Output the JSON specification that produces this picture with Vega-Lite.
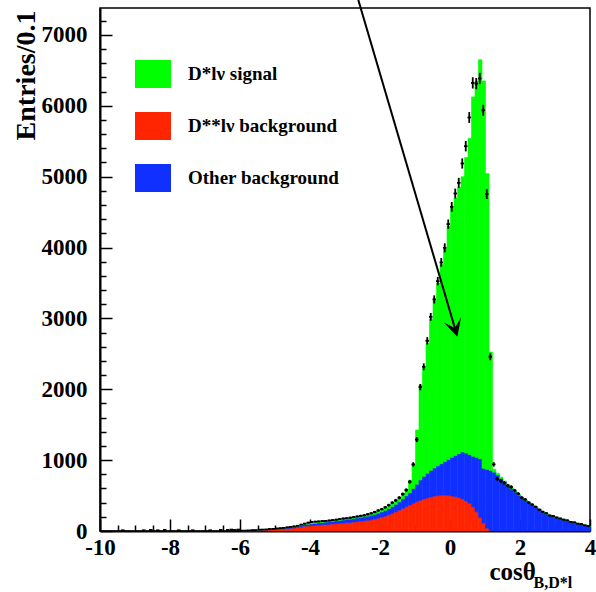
{
  "$schema": "https://vega.github.io/schema/vega-lite/v6.json",
  "width": 490,
  "height": 523,
  "autosize": {"type": "none"},
  "padding": {"left": 100, "top": 8, "right": 6, "bottom": 61},
  "background": "white",
  "config": {
    "view": {"stroke": "black", "strokeWidth": 1.5},
    "font": "Liberation Serif",
    "axis": {"grid": false, "domainColor": "black", "tickColor": "black", "labelColor": "black", "titleColor": "black", "labelFont": "Liberation Serif", "titleFont": "Liberation Serif", "labelFontWeight": "bold", "titleFontWeight": "bold", "labelFlush": false, "labelOverlap": false}
  },
  "datasets": {
    "h": [
      {"a":-9.4,"b":-9.3,"m":-9.35,"d":10,"e":3},
      {"a":-8.8,"b":-8.7,"m":-8.75,"d":10,"e":3},
      {"a":-8.6,"b":-8.5,"m":-8.55,"d":15,"e":4},
      {"a":-8.4,"b":-8.3,"m":-8.35,"d":10,"e":3},
      {"a":-8.2,"b":-8.1,"m":-8.15,"d":15,"e":4},
      {"a":-7.8,"b":-7.7,"m":-7.75,"d":10,"e":3},
      {"a":-7.4,"b":-7.3,"m":-7.35,"d":10,"e":3},
      {"a":-6.9,"b":-6.8,"m":-6.85,"d":10,"e":3},
      {"a":-6.6,"b":-6.5,"m":-6.55,"d":15,"e":4},
      {"a":-6.4,"b":-6.3,"m":-6.35,"d":15,"e":4},
      {"a":-6.3,"b":-6.2,"m":-6.25,"d":20,"e":4.5},
      {"a":-6.2,"b":-6.1,"m":-6.15,"d":15,"e":4},
      {"a":-6.1,"b":-6.0,"m":-6.05,"d":20,"e":4.5},
      {"a":-6.0,"b":-5.9,"m":-5.95,"dss":3,"oth":1,"sig":0,"d":5,"e":2.2},
      {"a":-5.9,"b":-5.8,"m":-5.85,"dss":4,"oth":1,"sig":0,"d":6,"e":2.4},
      {"a":-5.8,"b":-5.7,"m":-5.75,"dss":6,"oth":2,"sig":0,"d":8,"e":2.8},
      {"a":-5.7,"b":-5.6,"m":-5.65,"dss":8,"oth":2,"sig":0,"d":12,"e":3.5},
      {"a":-5.6,"b":-5.5,"m":-5.55,"dss":8,"oth":3,"sig":1,"d":12,"e":3.5},
      {"a":-5.5,"b":-5.4,"m":-5.45,"dss":12,"oth":4,"sig":1,"d":18,"e":4.2},
      {"a":-5.4,"b":-5.3,"m":-5.35,"dss":14,"oth":4,"sig":1,"d":20,"e":4.5},
      {"a":-5.3,"b":-5.2,"m":-5.25,"dss":14,"oth":6,"sig":2,"d":22,"e":4.7},
      {"a":-5.2,"b":-5.1,"m":-5.15,"dss":18,"oth":6,"sig":2,"d":28,"e":5.3},
      {"a":-5.1,"b":-5.0,"m":-5.05,"dss":20,"oth":7,"sig":2,"d":30,"e":5.5},
      {"a":-5.0,"b":-4.9,"m":-4.95,"dss":24,"oth":8,"sig":3,"d":36,"e":6},
      {"a":-4.9,"b":-4.8,"m":-4.85,"dss":28,"oth":8,"sig":3,"d":40,"e":6.3},
      {"a":-4.8,"b":-4.7,"m":-4.75,"dss":30,"oth":10,"sig":3,"d":44,"e":6.6},
      {"a":-4.7,"b":-4.6,"m":-4.65,"dss":34,"oth":12,"sig":4,"d":52,"e":7.2},
      {"a":-4.6,"b":-4.5,"m":-4.55,"dss":38,"oth":14,"sig":4,"d":58,"e":7.6},
      {"a":-4.5,"b":-4.4,"m":-4.45,"dss":44,"oth":14,"sig":5,"d":64,"e":8},
      {"a":-4.4,"b":-4.3,"m":-4.35,"dss":50,"oth":16,"sig":5,"d":74,"e":8.6},
      {"a":-4.3,"b":-4.2,"m":-4.25,"dss":58,"oth":18,"sig":6,"d":90,"e":9.5},
      {"a":-4.2,"b":-4.1,"m":-4.15,"dss":68,"oth":22,"sig":6,"d":104,"e":10.2},
      {"a":-4.1,"b":-4.0,"m":-4.05,"dss":72,"oth":24,"sig":7,"d":118,"e":10.9},
      {"a":-4.0,"b":-3.9,"m":-3.95,"dss":76,"oth":26,"sig":8,"d":128,"e":11.3},
      {"a":-3.9,"b":-3.8,"m":-3.85,"dss":80,"oth":28,"sig":8,"d":132,"e":11.5},
      {"a":-3.8,"b":-3.7,"m":-3.75,"dss":84,"oth":30,"sig":9,"d":135,"e":11.6},
      {"a":-3.7,"b":-3.6,"m":-3.65,"dss":88,"oth":32,"sig":10,"d":140,"e":11.8},
      {"a":-3.6,"b":-3.5,"m":-3.55,"dss":92,"oth":34,"sig":10,"d":142,"e":11.9},
      {"a":-3.5,"b":-3.4,"m":-3.45,"dss":96,"oth":36,"sig":11,"d":148,"e":12.2},
      {"a":-3.4,"b":-3.3,"m":-3.35,"dss":100,"oth":38,"sig":12,"d":154,"e":12.4},
      {"a":-3.3,"b":-3.2,"m":-3.25,"dss":104,"oth":40,"sig":13,"d":160,"e":12.6},
      {"a":-3.2,"b":-3.1,"m":-3.15,"dss":108,"oth":42,"sig":14,"d":168,"e":13},
      {"a":-3.1,"b":-3.0,"m":-3.05,"dss":112,"oth":44,"sig":15,"d":176,"e":13.3},
      {"a":-3.0,"b":-2.9,"m":-2.95,"dss":116,"oth":46,"sig":16,"d":180,"e":13.4},
      {"a":-2.9,"b":-2.8,"m":-2.85,"dss":120,"oth":48,"sig":17,"d":188,"e":13.7},
      {"a":-2.8,"b":-2.7,"m":-2.75,"dss":126,"oth":50,"sig":18,"d":196,"e":14},
      {"a":-2.7,"b":-2.6,"m":-2.65,"dss":132,"oth":52,"sig":20,"d":205,"e":14.3},
      {"a":-2.6,"b":-2.5,"m":-2.55,"dss":138,"oth":54,"sig":22,"d":214,"e":14.6},
      {"a":-2.5,"b":-2.4,"m":-2.45,"dss":144,"oth":56,"sig":24,"d":222,"e":14.9},
      {"a":-2.4,"b":-2.3,"m":-2.35,"dss":150,"oth":60,"sig":26,"d":236,"e":15.4},
      {"a":-2.3,"b":-2.2,"m":-2.25,"dss":158,"oth":64,"sig":28,"d":250,"e":15.8},
      {"a":-2.2,"b":-2.1,"m":-2.15,"dss":168,"oth":68,"sig":30,"d":268,"e":16.4},
      {"a":-2.1,"b":-2.0,"m":-2.05,"dss":180,"oth":72,"sig":33,"d":290,"e":17},
      {"a":-2.0,"b":-1.9,"m":-1.95,"dss":194,"oth":76,"sig":36,"d":308,"e":17.5},
      {"a":-1.9,"b":-1.8,"m":-1.85,"dss":210,"oth":82,"sig":40,"d":335,"e":18.3},
      {"a":-1.8,"b":-1.7,"m":-1.75,"dss":228,"oth":88,"sig":44,"d":365,"e":19.1},
      {"a":-1.7,"b":-1.6,"m":-1.65,"dss":248,"oth":96,"sig":48,"d":400,"e":20},
      {"a":-1.6,"b":-1.5,"m":-1.55,"dss":270,"oth":106,"sig":54,"d":432,"e":20.8},
      {"a":-1.5,"b":-1.4,"m":-1.45,"dss":294,"oth":118,"sig":62,"d":470,"e":21.7},
      {"a":-1.4,"b":-1.3,"m":-1.35,"dss":318,"oth":134,"sig":78,"d":520,"e":22.8},
      {"a":-1.3,"b":-1.2,"m":-1.25,"dss":342,"oth":154,"sig":94,"d":578,"e":24},
      {"a":-1.2,"b":-1.1,"m":-1.15,"dss":366,"oth":174,"sig":170,"d":695,"e":26.4},
      {"a":-1.1,"b":-1.0,"m":-1.05,"dss":390,"oth":210,"sig":340,"d":940,"e":30.7},
      {"a":-1.0,"b":-0.9,"m":-0.95,"dss":412,"oth":248,"sig":765,"d":1290,"e":35.9},
      {"a":-0.9,"b":-0.8,"m":-0.85,"dss":432,"oth":288,"sig":1340,"d":2030,"e":45},
      {"a":-0.8,"b":-0.7,"m":-0.75,"dss":450,"oth":320,"sig":1530,"d":2317,"e":48.1},
      {"a":-0.7,"b":-0.6,"m":-0.65,"dss":466,"oth":349,"sig":1835,"d":2684,"e":51.8},
      {"a":-0.6,"b":-0.5,"m":-0.55,"dss":480,"oth":375,"sig":2135,"d":3022,"e":55},
      {"a":-0.5,"b":-0.4,"m":-0.45,"dss":492,"oth":398,"sig":2360,"d":3268,"e":57.2},
      {"a":-0.4,"b":-0.3,"m":-0.35,"dss":500,"oth":420,"sig":2580,"d":3526,"e":59.4},
      {"a":-0.3,"b":-0.2,"m":-0.25,"dss":504,"oth":446,"sig":2810,"d":3790,"e":61.6},
      {"a":-0.2,"b":-0.1,"m":-0.15,"dss":504,"oth":476,"sig":3000,"d":3996,"e":63.2},
      {"a":-0.1,"b":0.0,"m":-0.05,"dss":500,"oth":510,"sig":3290,"d":4330,"e":65.8},
      {"a":0.0,"b":0.1,"m":0.05,"dss":494,"oth":546,"sig":3510,"d":4574,"e":67.6},
      {"a":0.1,"b":0.2,"m":0.15,"dss":484,"oth":581,"sig":3635,"d":4763,"e":69},
      {"a":0.2,"b":0.3,"m":0.25,"dss":470,"oth":620,"sig":3760,"d":4913,"e":70.1},
      {"a":0.3,"b":0.4,"m":0.35,"dss":450,"oth":665,"sig":3885,"d":5186,"e":72},
      {"a":0.4,"b":0.5,"m":0.45,"dss":424,"oth":676,"sig":4170,"d":5430,"e":73.7},
      {"a":0.5,"b":0.6,"m":0.55,"dss":390,"oth":690,"sig":4460,"d":5835,"e":76.4},
      {"a":0.6,"b":0.7,"m":0.65,"dss":340,"oth":715,"sig":5070,"d":6323,"e":79.5},
      {"a":0.7,"b":0.8,"m":0.75,"dss":270,"oth":770,"sig":5310,"d":6313,"e":79.5},
      {"a":0.8,"b":0.9,"m":0.85,"dss":190,"oth":830,"sig":5630,"d":6385,"e":79.9},
      {"a":0.9,"b":1.0,"m":0.95,"dss":110,"oth":775,"sig":5465,"d":5937,"e":77.1},
      {"a":1.0,"b":1.1,"m":1.05,"dss":40,"oth":830,"sig":4175,"d":4753,"e":68.9},
      {"a":1.1,"b":1.2,"m":1.15,"dss":8,"oth":847,"sig":1670,"d":2460,"e":49.6},
      {"a":1.2,"b":1.3,"m":1.25,"oth":830,"sig":40,"d":940,"e":30.7},
      {"a":1.3,"b":1.4,"m":1.35,"oth":790,"sig":25,"d":735,"e":27.1},
      {"a":1.4,"b":1.5,"m":1.45,"oth":740,"sig":20,"d":705,"e":26.6},
      {"a":1.5,"b":1.6,"m":1.55,"oth":690,"sig":15,"d":680,"e":26.1},
      {"a":1.6,"b":1.7,"m":1.65,"oth":640,"sig":15,"d":640,"e":25.3},
      {"a":1.7,"b":1.8,"m":1.75,"oth":595,"sig":13,"d":620,"e":24.9},
      {"a":1.8,"b":1.9,"m":1.85,"oth":550,"sig":12,"d":570,"e":23.9},
      {"a":1.9,"b":2.0,"m":1.95,"oth":505,"sig":11,"d":525,"e":22.9},
      {"a":2.0,"b":2.1,"m":2.05,"oth":465,"sig":10,"d":470,"e":21.7},
      {"a":2.1,"b":2.2,"m":2.15,"oth":430,"sig":10,"d":445,"e":21.1},
      {"a":2.2,"b":2.3,"m":2.25,"oth":395,"sig":9,"d":400,"e":20},
      {"a":2.3,"b":2.4,"m":2.35,"oth":360,"sig":8,"d":372,"e":19.3},
      {"a":2.4,"b":2.5,"m":2.45,"oth":330,"sig":7,"d":340,"e":18.4},
      {"a":2.5,"b":2.6,"m":2.55,"oth":300,"sig":6,"d":300,"e":17.3},
      {"a":2.6,"b":2.7,"m":2.65,"oth":260,"sig":6,"d":270,"e":16.4},
      {"a":2.7,"b":2.8,"m":2.75,"oth":238,"sig":5,"d":250,"e":15.8},
      {"a":2.8,"b":2.9,"m":2.85,"oth":218,"sig":4,"d":218,"e":14.8},
      {"a":2.9,"b":3.0,"m":2.95,"oth":200,"sig":4,"d":210,"e":14.5},
      {"a":3.0,"b":3.1,"m":3.05,"oth":184,"sig":3,"d":190,"e":13.8},
      {"a":3.1,"b":3.2,"m":3.15,"oth":170,"sig":3,"d":176,"e":13.3},
      {"a":3.2,"b":3.3,"m":3.25,"oth":156,"sig":3,"d":160,"e":12.6},
      {"a":3.3,"b":3.4,"m":3.35,"oth":142,"sig":3,"d":150,"e":12.2},
      {"a":3.4,"b":3.5,"m":3.45,"oth":128,"sig":2,"d":128,"e":11.3},
      {"a":3.5,"b":3.6,"m":3.55,"oth":116,"sig":2,"d":122,"e":11},
      {"a":3.6,"b":3.7,"m":3.65,"oth":104,"sig":2,"d":104,"e":10.2},
      {"a":3.7,"b":3.8,"m":3.75,"oth":92,"sig":2,"d":98,"e":9.9},
      {"a":3.8,"b":3.9,"m":3.85,"oth":80,"sig":2,"d":80,"e":8.9},
      {"a":3.9,"b":4.0,"m":3.95,"oth":66,"sig":2,"d":70,"e":8.4}
    ],
    "arrow": [
      {"x1": -2.62, "y1": 7494, "x2": 0.14, "y2": 2863, "tx": 0.21, "ty": 2742}
    ]
  },
  "resolve": {"axis": {"x": "independent", "y": "independent"}},
  "layer": [
    {
      "data": {"name": "h"},
      "transform": [
        {"fold": ["dss", "oth", "sig"], "as": ["comp", "n"]},
        {"filter": "datum.n > 0"}
      ],
      "mark": {"type": "bar", "binSpacing": 0, "strokeWidth": 0.6, "opacity": 1},
      "encoding": {
        "x": {"field": "a", "type": "quantitative", "bin": "binned",
              "scale": {"domain": [-10, 4], "nice": false, "zero": false},
              "axis": {"orient": "bottom", "values": [-10, -8, -6, -4, -2, 0, 2, 4], "labelExpr": "'' + datum.value",
                       "labelFontSize": 23, "tickSize": -12, "tickWidth": 1.5, "domainWidth": 2, "labelPadding": 17,
                       "title": "cosθ", "titleFontSize": 25, "titleX": 389, "titleY": 48, "titleAlign": "left", "titleBaseline": "alphabetic", "titleAnchor": null}},
        "x2": {"field": "b"},
        "y": {"field": "n", "type": "quantitative", "stack": "zero",
              "scale": {"domain": [0, 7380], "nice": false},
              "axis": {"orient": "left", "values": [0, 1000, 2000, 3000, 4000, 5000, 6000, 7000], "labelExpr": "'' + datum.value",
                       "labelFontSize": 23, "tickSize": -12, "tickWidth": 1.5, "domainWidth": 2, "labelPadding": 25,
                       "title": "Entries/0.1", "titleFontSize": 28, "titleAngle": 270, "titleX": -66, "titleY": 2, "titleAlign": "right", "titleBaseline": "alphabetic", "titleAnchor": null}},
        "color": {"field": "comp", "type": "nominal",
                  "scale": {"domain": ["sig", "dss", "oth"], "range": ["#00ff00", "#ff2500", "#1030ff"]},
                  "legend": {"orient": "none", "legendX": 35, "legendY": 48, "title": null, "padding": 0,
                             "symbolType": "M-1,-0.78H1V0.78H-1Z", "symbolSize": 1296, "symbolStrokeWidth": 0, "symbolOpacity": 1,
                             "labelFont": "Liberation Serif", "labelFontWeight": "bold", "labelFontSize": 19, "labelColor": "black",
                             "labelOffset": 17, "rowPadding": 19, "labelLimit": 300,
                             "labelExpr": "datum.value === 'sig' ? 'D*lν signal' : datum.value === 'dss' ? 'D**lν background' : 'Other background'"}},
        "stroke": {"field": "comp", "type": "nominal",
                   "scale": {"domain": ["sig", "dss", "oth"], "range": ["#00ff00", "#ff2500", "#1030ff"]}, "legend": null},
        "order": {"field": "comp", "type": "ordinal"}
      }
    },
    {
      "data": {"name": "h"},
      "mark": {"type": "rule", "strokeWidth": 1.8, "color": "black"},
      "encoding": {
        "x": {"field": "a", "type": "quantitative", "scale": {"domain": [-10, 4], "nice": false, "zero": false},
              "axis": {"orient": "bottom", "values": [-9.5, -9, -8.5, -7.5, -7, -6.5, -5.5, -5, -4.5, -3.5, -3, -2.5, -1.5, -1, -0.5, 0.5, 1, 1.5, 2.5, 3, 3.5],
                       "labels": false, "domain": false, "tickSize": -6, "tickWidth": 1.5,
                       "title": "B,D*l", "titleFontSize": 16, "titleX": 433, "titleY": 56, "titleAlign": "left", "titleBaseline": "alphabetic", "titleAnchor": null}},
        "x2": {"field": "b"},
        "y": {"field": "d", "type": "quantitative", "scale": {"domain": [0, 7380], "nice": false},
              "axis": {"orient": "left", "values": [200, 400, 600, 800, 1200, 1400, 1600, 1800, 2200, 2400, 2600, 2800, 3200, 3400, 3600, 3800, 4200, 4400, 4600, 4800, 5200, 5400, 5600, 5800, 6200, 6400, 6600, 6800, 7200],
                       "labels": false, "domain": false, "tickSize": -6, "tickWidth": 1.5, "title": null}}
      }
    },
    {
      "data": {"name": "h"},
      "mark": {"type": "errorbar", "thickness": 1.8, "color": "black", "ticks": false},
      "encoding": {
        "x": {"field": "m", "type": "quantitative", "scale": {"domain": [-10, 4], "nice": false, "zero": false}, "axis": null},
        "y": {"field": "d", "type": "quantitative", "scale": {"domain": [0, 7380], "nice": false}, "axis": null},
        "yError": {"field": "e"}
      }
    },
    {
      "data": {"name": "arrow"},
      "mark": {"type": "rule", "strokeWidth": 2, "color": "black"},
      "encoding": {
        "x": {"field": "x1", "type": "quantitative", "scale": {"domain": [-10, 4], "nice": false, "zero": false}, "axis": null},
        "y": {"field": "y1", "type": "quantitative", "scale": {"domain": [0, 7380], "nice": false}, "axis": null},
        "x2": {"field": "x2"},
        "y2": {"field": "y2"}
      }
    },
    {
      "data": {"name": "arrow"},
      "mark": {"type": "point", "shape": "M0,0L-0.9,-1.75L0,-0.9L0.9,-1.75Z", "filled": true, "color": "black", "opacity": 1, "size": 400, "angle": 343.6, "strokeWidth": 0},
      "encoding": {
        "x": {"field": "tx", "type": "quantitative", "scale": {"domain": [-10, 4], "nice": false, "zero": false}, "axis": null},
        "y": {"field": "ty", "type": "quantitative", "scale": {"domain": [0, 7380], "nice": false}, "axis": null}
      }
    }
  ]
}
